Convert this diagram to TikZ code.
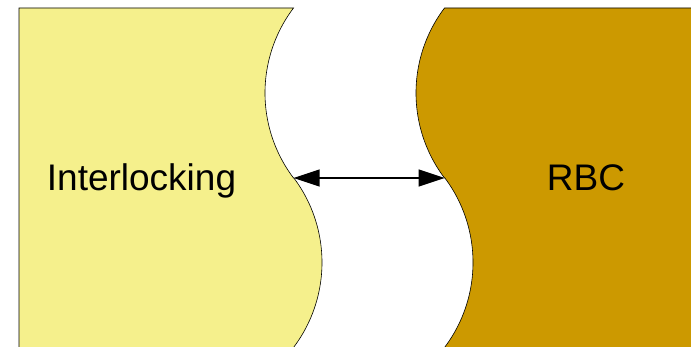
\documentclass[tikz,border=0pt]{standalone}
\usepackage{fontspec}
\setmainfont{Liberation Sans}
\usetikzlibrary{arrows.meta}
\definecolor{lightyel}{RGB}{245,240,140}
\definecolor{goldfill}{RGB}{204,153,0}
\begin{document}
\begin{tikzpicture}[x=1pt,y=-1pt,
  outline/.style={draw=black, line width=0.6pt},
  lbl/.style={font=\fontsize{37}{44}\selectfont, inner sep=0pt, anchor=base},
  link/.style={line width=1.3pt, {Triangle[length=26pt,width=17pt]}-{Triangle[length=26pt,width=17pt]}}]
\useasboundingbox (0,0) rectangle (691,347);
% left shape (wavy right edge: two circular arcs, r = 141)
\fill[lightyel] (19,347) -- (19,8)
  -- plot[domain=8:178, samples=70, variable=\t] ({406-141*sqrt(1-((\t-93)/141)^2)}, \t)
  -- plot[domain=178:347, samples=70, variable=\t] ({181+141*sqrt(1-((\t-262.5)/141)^2)}, \t) -- cycle;
\draw[outline] (19,347) -- (19,8)
  -- plot[domain=8:178, samples=70, variable=\t] ({406-141*sqrt(1-((\t-93)/141)^2)}, \t)
  -- plot[domain=178:347, samples=70, variable=\t] ({181+141*sqrt(1-((\t-262.5)/141)^2)}, \t);
% right shape
\fill[goldfill] (691,8)
  -- plot[domain=8:178, samples=70, variable=\t] ({557-141*sqrt(1-((\t-93)/141)^2)}, \t)
  -- plot[domain=178:347, samples=70, variable=\t] ({332+141*sqrt(1-((\t-262.5)/141)^2)}, \t)
  -- (691,347) -- cycle;
\draw[outline] (691,8)
  -- plot[domain=8:178, samples=70, variable=\t] ({557-141*sqrt(1-((\t-93)/141)^2)}, \t)
  -- plot[domain=178:347, samples=70, variable=\t] ({332+141*sqrt(1-((\t-262.5)/141)^2)}, \t);
% labels
\node[lbl] (il) at (141.5,191) {Interlocking};
\node[lbl] (rbc) at (586,191) {RBC};
% connector
\coordinate (la) at (293.6,178);
\coordinate (rb) at (444.6,178);
\draw[link] (la) -- (rb);
\end{tikzpicture}
\end{document}
